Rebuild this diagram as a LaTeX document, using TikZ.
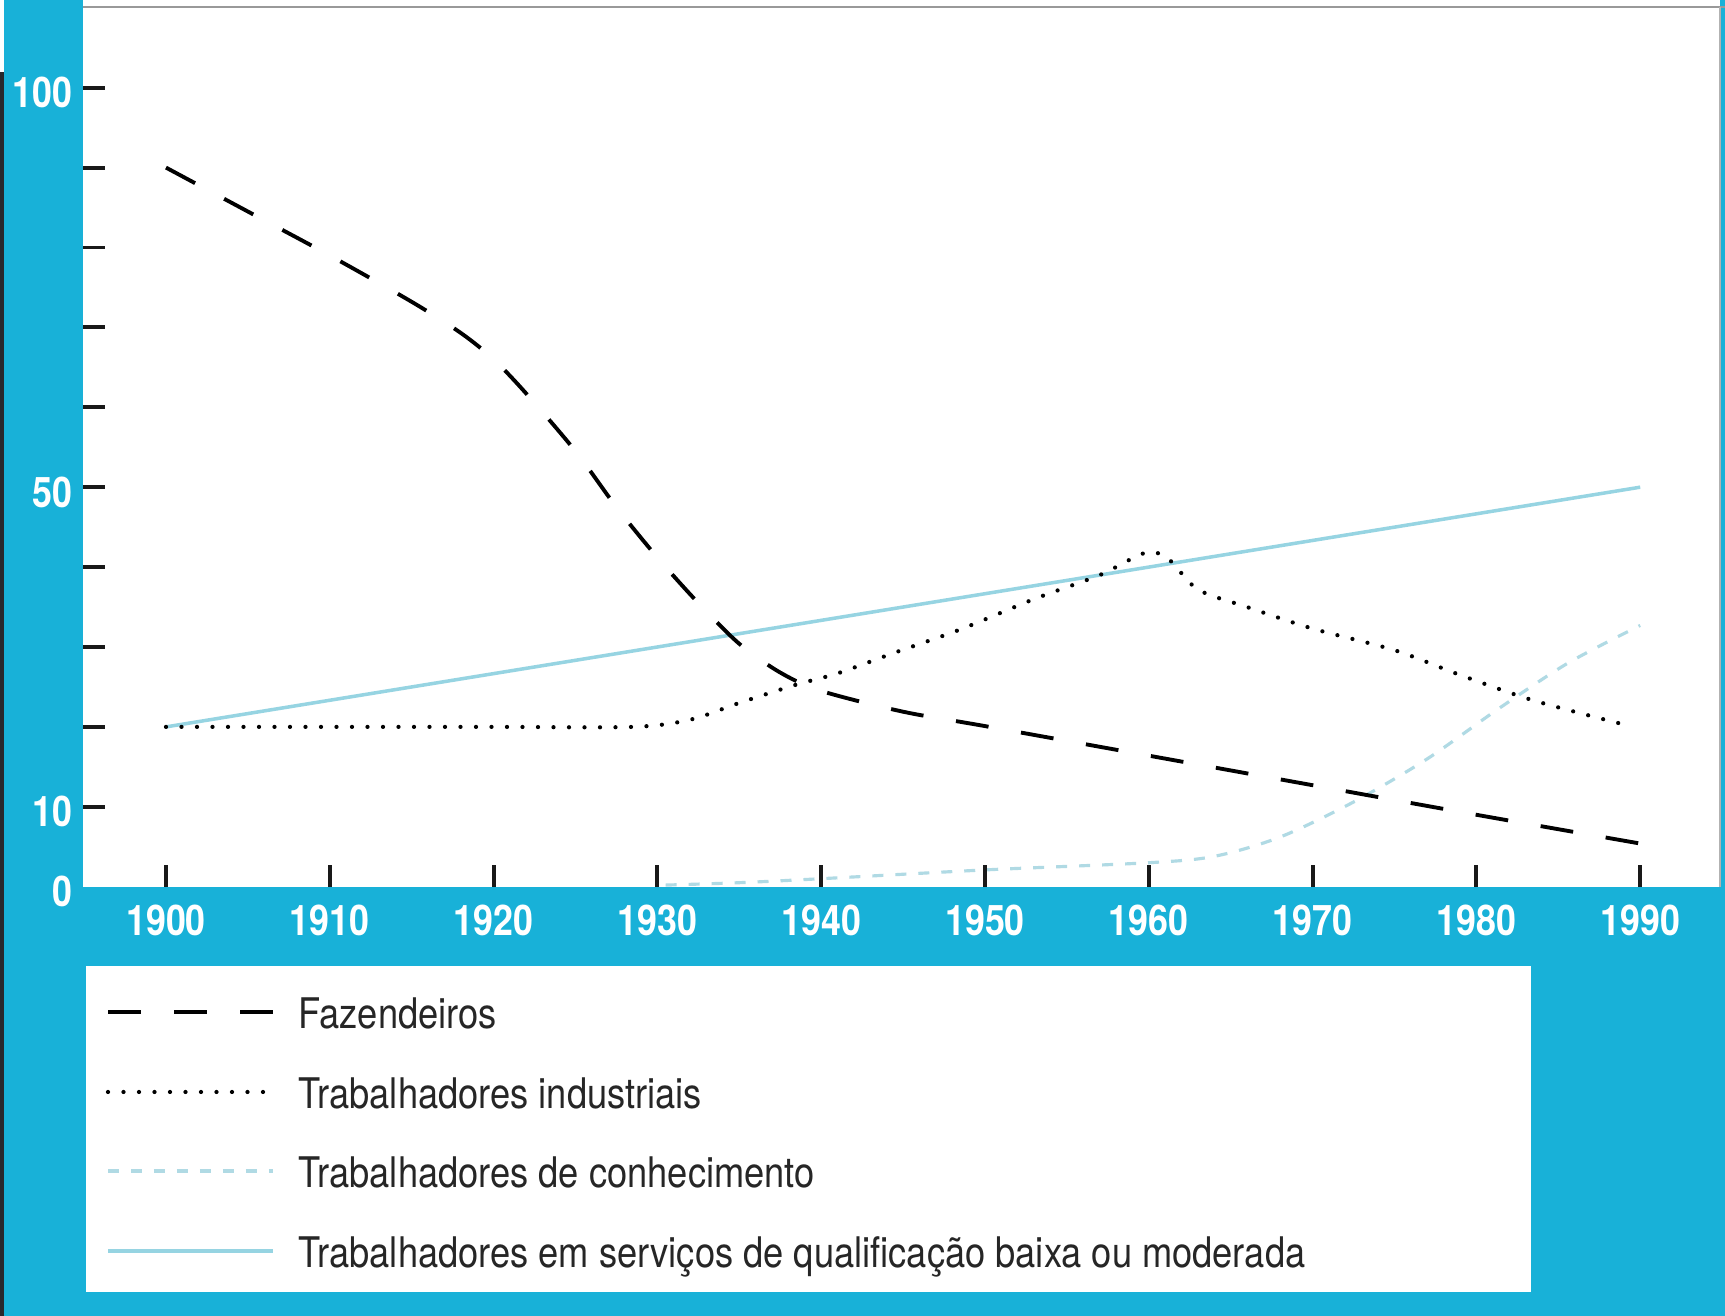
\documentclass[tikz,border=0pt]{standalone}
\usepackage{fontspec}
\usepackage{tikz}

\newfontfamily\axisfont[FakeStretch=0.85]{TeX Gyre Heros}
\newfontfamily\legfont[FakeStretch=0.86]{TeX Gyre Heros}

\definecolor{bandcyan}{RGB}{24,177,216}
\definecolor{servcyan}{RGB}{150,212,226}
\definecolor{knowcyan}{RGB}{176,218,228}
\definecolor{darkstrip}{RGB}{40,40,44}

\begin{document}
\begin{tikzpicture}[
	axlab/.style={font=\axisfont\bfseries\fontsize{12}{14}\selectfont, text=white, inner sep=0pt},
	legtext/.style={font=\legfont\fontsize{12}{14}\selectfont, text=black!85, anchor=base west, inner sep=0pt},
	tickline/.style={line width=1.1pt, black!90},
	fazline/.style={line width=1.1pt, black, dash pattern=on 0.33cm off 0.33cm},
	indline/.style={line width=1.2pt, black, line cap=round, dash pattern=on 0pt off 0.155cm},
	knowline/.style={line width=0.9pt, knowcyan, dash pattern=on 0.11cm off 0.12cm},
	servline/.style={line width=1pt, servcyan}
]

\useasboundingbox (0,0) rectangle (17.25,13.16);

% background, plot area, legend box
\fill[bandcyan] (0,0) rectangle (17.25,13.16);
\fill[darkstrip] (0,0) rectangle (0.04,12.44);
\fill[white] (0,12.44) rectangle (0.04,13.16);
\fill[white] (0.83,4.293) rectangle (17.20,13.16);
\draw[black!40, line width=0.8pt] (0.83,13.09)--(17.25,13.09);
\draw[black!30, line width=0.6pt] (17.20,4.293)--(17.20,13.09);
\fill[white] (0.86,0.235) rectangle (15.31,3.50);

\begin{scope}[shift={(1.66,4.293)}, x=1.638cm, y=0.799cm]

% left ticks
\foreach \i in {1,...,10}{
	\draw[tickline] (-0.507,\i)--++(0.22cm,0);
}

\foreach \v/\i in {0/0,10/1,50/5,100/10}{
	\node[axlab, anchor=east] (y\v) at ([xshift=-0.1cm, yshift=-0.05cm]-0.507,\i) {\v};
}

% bottom ticks
\foreach \i in {0,...,9}{
	\draw[tickline] (\i,0)--++(0,0.22cm);
}

\foreach \i in {0,...,9}{
	\node[axlab] (x19\i0) at ([yshift=-0.34cm]\i,0) {19\i0};
}

% services
\draw[servline] (0,2.0)--(9,5.0);

% knowledge workers
\draw[knowline] plot[smooth, tension=0.5] coordinates {
	(3.05,0.02) (3.5,0.05) (4.0,0.10) (5.0,0.21) (6.0,0.30) (6.4,0.38)
	(6.8,0.62) (7.25,1.06) (7.7,1.6) (8.13,2.22) (8.56,2.8) (9.0,3.27)};

% industrial workers
\draw[indline] plot[smooth, tension=0.5] coordinates {
	(0,2) (1,2) (2,2) (2.85,2.0) (3.2,2.09) (3.5,2.3) (3.85,2.53) (4.1,2.67)
	(4.45,2.93) (4.85,3.22) (5.3,3.6) (5.7,3.9) (5.98,4.18) (6.12,4.1) (6.3,3.72)
	(6.6,3.5) (7.0,3.23) (7.5,2.96) (7.9,2.65) (8.35,2.33) (8.92,2.02)};

% farmers
\draw[fazline] plot[smooth, tension=0.5] coordinates {
	(0,9.0) (0.5,8.45) (1,7.9) (1.5,7.32) (1.8,6.93) (2.0,6.6) (2.2,6.17)
	(2.5,5.45) (2.75,4.75) (3.0,4.12) (3.25,3.55) (3.5,3.04) (3.75,2.68)
	(4.0,2.45) (4.5,2.19) (5,2.01) (6,1.64) (7,1.27) (8,0.90) (9,0.54)};

\end{scope}

% legend
\node[legtext] (lfaz) at (2.98,2.87) {Fazendeiros};
\node[legtext] (lind) at (2.98,2.07) {Trabalhadores industriais};
\node[legtext] (lknow) at (2.98,1.28) {Trabalhadores de conhecimento};
\node[legtext] (lserv) at (2.98,0.48) {Trabalhadores em serviços de qualificação baixa ou moderada};

\coordinate (sfaz) at (1.08,3.04);
\coordinate (sind) at (1.08,2.24);
\coordinate (sknow) at (1.08,1.45);
\coordinate (sserv) at (1.08,0.65);

\draw[fazline] (sfaz)--++(1.65,0);
\draw[indline] (sind)--++(1.65,0);
\draw[knowline] (sknow)--++(1.65,0);
\draw[servline] (sserv)--++(1.65,0);

\end{tikzpicture}
\end{document}
